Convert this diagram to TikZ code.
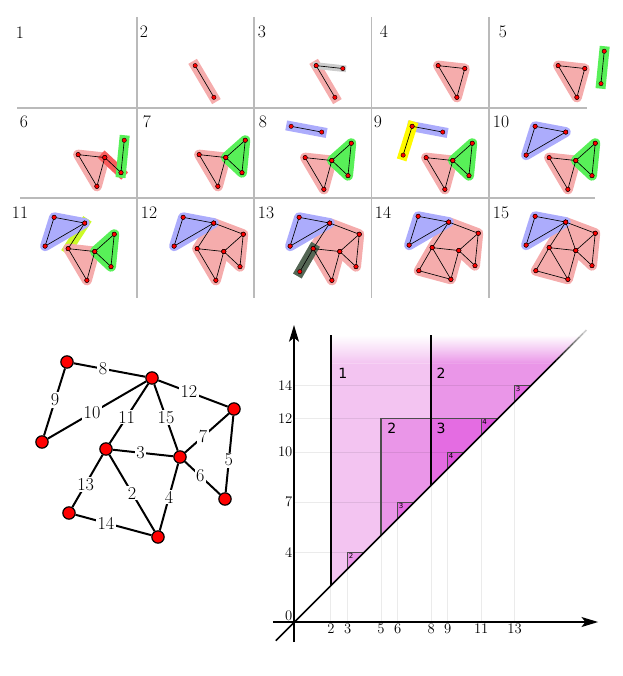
\documentclass[tikz,border=0pt]{standalone}
\usepackage{fontspec}
\usepackage{tikz}
\usetikzlibrary{arrows.meta,positioning,calc}
\newfontfamily\dvsans{DejaVu Sans}
\definecolor{hlred}{RGB}{245,172,172}
\definecolor{hldark}{RGB}{248,92,92}
\definecolor{hlgreen}{RGB}{88,240,88}
\definecolor{hlblue}{RGB}{172,172,252}
\definecolor{hlyellow}{RGB}{255,250,0}
\definecolor{hllime}{RGB}{204,250,40}
\definecolor{hlmoss}{RGB}{84,102,84}
\definecolor{hlgray}{RGB}{205,205,205}
\definecolor{pk1}{RGB}{243,196,241}
\definecolor{pk2}{RGB}{234,150,232}
\definecolor{pk3}{RGB}{228,108,226}
\definecolor{pk4}{RGB}{220,82,218}
% vertex positions of the graph (pixel units)
\newcommand{\gverts}{%
  \coordinate (A) at (67,362); \coordinate (B) at (152,378);
  \coordinate (C) at (234,409); \coordinate (D) at (42,442);
  \coordinate (E) at (106,449); \coordinate (F) at (180,457);
  \coordinate (G) at (225,499); \coordinate (H) at (69,513);
  \coordinate (I) at (158,537)}
\newcommand{\edgelist}{2/E/I,3/E/F,4/F/I,5/C/G,6/F/G,7/F/C,8/A/B,9/A/D,10/D/B,11/B/E,12/B/C,13/E/H,14/H/I,15/B/F}
% one stage of the filtration: #1 number, #2/#3 offset, #4 highlights
\newcommand{\stage}[4]{%
  \begin{scope}[shift={(#2,#3)}, name prefix=p#1-]
    \begin{scope}[shift={(22,-112)}, scale=0.36] \gverts; \end{scope}
    #4
    \foreach \k/\ea/\eb in \edgelist {\ifnum\k>#1\relax\else \draw[sedge] (\ea) -- (\eb);\fi}
    \foreach \k/\ea/\eb in \edgelist {\ifnum\k>#1\relax\else
      \node[sdot] (\ea-dot) at (\ea) {}; \node[sdot] (\eb-dot) at (\eb) {};\fi}
  \end{scope}}

\begin{document}
\begin{tikzpicture}[x=0.03cm, y=-0.03cm,
  tgrid/.style={draw=black!27, line width=1.3pt},
  stnum/.style={font=\fontsize{15}{17}\selectfont, inner sep=0pt},
  hl/.style={draw=#1, fill=#1, line width=0.3cm, line join=round, line cap=rect},
  sedge/.style={line width=0.55pt},
  sdot/.style={circle, draw=black, fill=red, line width=0.35pt, minimum size=0.13cm, inner sep=0pt},
  gv/.style={circle, draw=black, fill=red, line width=1pt, minimum size=0.37cm, inner sep=0pt},
  gedge/.style={line width=1.7pt},
  elbl/.style={fill=white, inner sep=1.2pt, font=\fontsize{15.5}{17}\selectfont},
  pgrid/.style={draw=black, opacity=0.08, line width=0.8pt},
  bar/.style={line width=1.5pt},
  boxline/.style={draw=black!70, line width=0.9pt},
  smallbox/.style={draw=black!70, line width=0.6pt},
  axis/.style={line width=1.2pt, -{Stealth[length=0.5cm, width=0.3cm, inset=0.12cm]}},
  tick/.style={font=\fontsize{12.5}{14}\selectfont, inner sep=0.6pt},
  rlbl/.style={font=\dvsans\fontsize{12}{14}\selectfont, inner sep=0pt},
  slbl/.style={font=\dvsans\fontsize{6}{7}\selectfont, inner sep=0.8pt}]

\useasboundingbox (0,0) rectangle (623,676);

% ===== top: the fifteen stages =====
\foreach \x in {137,254,371.5,489} \draw[tgrid] (\x,17) -- (\x,298);
\draw[tgrid] (17,108) -- (587,108);
\draw[tgrid] (20,198) -- (595,198);

\foreach \n/\x/\y in {1/20/33,2/144/32,3/262/32,4/384/32,5/503/32,
  6/24/122,7/147/122,8/263/122,9/378/122,10/501/122,
  11/20/213,12/149/213,13/266/213,14/383/213,15/501/213}
  \node[stnum] (num\n) at (\x,\y) {\n};

\stage{2}{135}{16}{\filldraw[hl=hlred] (E) -- (I);}
\stage{3}{256}{16}{\filldraw[hl=hlred] (E) -- (I);
  \filldraw[hl=hlgray, line width=0.2cm] (E) -- (F);}
\stage{4}{378}{16}{\filldraw[hl=hlred] (E) -- (F) -- (I) -- cycle;}
\stage{5}{498}{16}{\filldraw[hl=hlred] (E) -- (F) -- (I) -- cycle;
  \filldraw[hl=hlgreen] (C) -- (G);}
\stage{6}{18}{105}{\filldraw[hl=hlred] (E) -- (F) -- (I) -- cycle;
  \filldraw[hl=hldark] (F) -- (G); \filldraw[hl=hlgreen] (C) -- (G);}
\stage{7}{139}{105}{\filldraw[hl=hlred] (E) -- (F) -- (I) -- cycle;
  \filldraw[hl=hlgreen] (F) -- (C) -- (G) -- cycle;}
\stage{8}{245}{108}{\filldraw[hl=hlred] (E) -- (F) -- (I) -- cycle;
  \filldraw[hl=hlgreen] (F) -- (C) -- (G) -- cycle;
  \filldraw[hl=hlblue] (A) -- (B);}
\stage{9}{366}{108}{\filldraw[hl=hlred] (E) -- (F) -- (I) -- cycle;
  \filldraw[hl=hlgreen] (F) -- (C) -- (G) -- cycle;
  \filldraw[hl=hlblue] (A) -- (B); \filldraw[hl=hlyellow] (A) -- (D);}
\stage{10}{489}{108}{\filldraw[hl=hlred] (E) -- (F) -- (I) -- cycle;
  \filldraw[hl=hlgreen] (F) -- (C) -- (G) -- cycle;
  \filldraw[hl=hlblue] (A) -- (B) -- (D) -- cycle;}
\stage{11}{8}{199}{\filldraw[hl=hllime] (B) -- (E);
  \filldraw[hl=hlblue] (A) -- (B) -- (D) -- cycle;
  \filldraw[hl=hlred] (E) -- (F) -- (I) -- cycle;
  \filldraw[hl=hlgreen] (F) -- (C) -- (G) -- cycle;}
\stage{12}{137}{199}{\filldraw[hl=hlred] (B) -- (C) -- (G) -- (F) -- (I) -- (E) -- cycle;
  \filldraw[hl=hlblue] (A) -- (B) -- (D) -- cycle;}
\stage{13}{253}{199}{\filldraw[hl=hlred] (B) -- (C) -- (G) -- (F) -- (I) -- (E) -- cycle;
  \filldraw[hl=hlblue] (A) -- (B) -- (D) -- cycle;
  \filldraw[hl=hlmoss] (E) -- (H);}
\stage{14}{372}{198}{\filldraw[hl=hlred] (B) -- (C) -- (G) -- (F) -- (I) -- (H) -- (E) -- cycle;
  \filldraw[hl=hlblue] (A) -- (B) -- (D) -- cycle;}
\stage{15}{489}{198}{\filldraw[hl=hlred] (B) -- (C) -- (G) -- (F) -- (I) -- (H) -- (E) -- cycle;
  \filldraw[hl=hlblue] (A) -- (B) -- (D) -- cycle;}

% ===== bottom left: the weighted graph =====
\node[gv] (A) at (67,362) {};
\node[gv] (B) at (152,378) {};
\node[gv] (C) at (234,409) {};
\node[gv] (D) at (42,442) {};
\node[gv] (E) at (106,449) {};
\node[gv] (F) at (180,457) {};
\node[gv] (G) at (225,499) {};
\node[gv] (H) at (69,513) {};
\node[gv] (I) at (158,537) {};
\draw[gedge] (E) -- node[elbl, pos=0.5] (w2) {2} (I);
\draw[gedge] (E) -- node[elbl, pos=0.46] (w3) {3} (F);
\draw[gedge] (F) -- node[elbl, pos=0.5] (w4) {4} (I);
\draw[gedge] (C) -- node[elbl, pos=0.58] (w5) {5} (G);
\draw[gedge] (F) -- node[elbl, pos=0.44] (w6) {6} (G);
\draw[gedge] (F) -- node[elbl, pos=0.41] (w7) {7} (C);
\draw[gedge] (A) -- node[elbl, pos=0.41] (w8) {8} (B);
\draw[gedge] (A) -- node[elbl, pos=0.47] (w9) {9} (D);
\draw[gedge] (D) -- node[elbl, pos=0.45] (w10) {10} (B);
\draw[gedge] (B) -- node[elbl, pos=0.56] (w11) {11} (E);
\draw[gedge] (B) -- node[elbl, pos=0.44] (w12) {12} (C);
\draw[gedge] (E) -- node[elbl, pos=0.56] (w13) {13} (H);
\draw[gedge] (H) -- node[elbl, pos=0.40] (w14) {14} (I);
\draw[gedge] (B) -- node[elbl, pos=0.5] (w15) {15} (F);

% ===== bottom right: rank diagram =====
\begin{scope}[shift={(297.5,619)}, x=0.501cm, y=0.501cm]
  \fill[pk1] (2,2) -- (2,15.3) -- (15.3,15.3) -- cycle;
  \shade[top color=white, bottom color=pk1] (2,15.3) -- (2,17) -- (17,17) -- (15.3,15.3) -- cycle;
  \fill[pk2] (5,5) -- (5,12) -- (12,12) -- cycle;
  \fill[pk2] (8,8) -- (8,15.3) -- (15.3,15.3) -- cycle;
  \shade[top color=white, bottom color=pk2] (8,15.3) -- (8,17) -- (17,17) -- (15.3,15.3) -- cycle;
  \fill[pk3] (8,8) -- (8,12) -- (12,12) -- cycle;
  \foreach \p/\q/\c in {3/4/pk2,6/7/pk3,9/10/pk4,11/12/pk4,13/14/pk3}
    \fill[\c] (\p,\p) -- (\p,\q) -- (\q,\q) -- cycle;
  % light grid
  \foreach \v in {2,3,5,6,8,9,11,13} \draw[pgrid] (\v,-0.18) -- (\v,\v);
  \foreach \v in {4,7,10,12,14} \draw[pgrid] (-0.21,\v) -- (\v,\v);
  % bars
  \foreach \p/\q in {3/4,6/7,9/10,11/12,13/14}
    \draw[smallbox] (\p,\p) -- (\p,\q) -- (\q,\q);
  \draw[boxline] (5,5) -- (5,12) -- (12,12);
  \draw[bar] (2,2) -- (2,17);
  \draw[bar] (8,8) -- (8,17);
  % diagonal, fading out at the top
  \draw[line width=1.4pt] (-1.3,-1.3) -- (15.3,15.3);
  \foreach \i [evaluate=\i as \c using int(100-9*\i), evaluate=\i as \s using 15.3+0.2*\i] in {0,...,9}
    \draw[line width=1.4pt, black!\c] (\s,\s) -- (\s+0.2,\s+0.2);
  % axes
  \coordinate (xa) at (-1.47,-0.18); \coordinate (xb) at (18.0,-0.18);
  \coordinate (ya) at (-0.21,-1.38); \coordinate (yb) at (-0.21,17.6);
  \draw[axis] (xa) -- (xb);
  \draw[axis] (ya) -- (yb);
  \foreach \v in {2,3,5,6,8,9,11,13} \node[tick, anchor=north] (x\v) at (\v,-0.22) {\v};
  \foreach \v in {4,7,10,12,14} \node[tick, anchor=east] (y\v) at (-0.25,\v) {\v};
  \node[tick, anchor=east] (y0) at (-0.25,0.22) {0};
  % ranks
  \node[rlbl] (r1) at (2.72,14.7) {1};
  \node[rlbl] (r2) at (8.6,14.7) {2};
  \node[rlbl] (r3) at (5.65,11.4) {2};
  \node[rlbl] (r4) at (8.6,11.4) {3};
  \foreach \p/\q/\n in {3/4/2,6/7/3,9/10/4,11/12/4,13/14/3}
    \node[slbl, anchor=north west] (s\p) at (\p,\q) {\n};
\end{scope}
\end{tikzpicture}
\end{document}
